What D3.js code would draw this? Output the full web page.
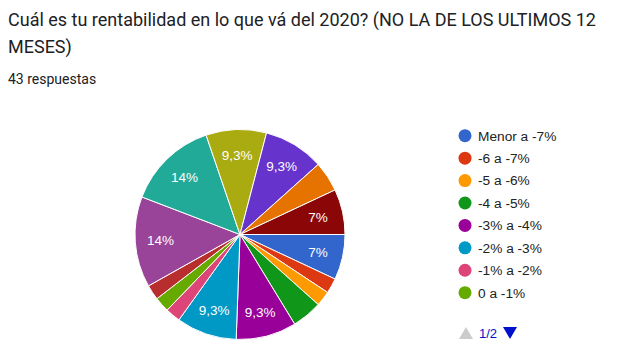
<!DOCTYPE html>
<html>
<head>
<meta charset="utf-8">
<script src="https://cdn.jsdelivr.net/npm/d3@7"></script>
<style>
html,body{margin:0;padding:0;background:#fff;}
svg{display:block;}
</style>
</head>
<body>
<svg id="chart" width="640" height="349"></svg>
<script>
const titleLines = ["Cuál es tu rentabilidad en lo que vá del 2020? (NO LA DE LOS ULTIMOS 12", "MESES)"];
const subtitle = "43 respuestas";
const categories = ["Menor a -7%", "-6 a -7%", "-5 a -6%", "-4 a -5%", "-3% a -4%", "-2% a -3%", "-1% a -2%", "0 a -1%",
  "0 a 1%", "1% a 2%", "2% a 3%", "3% a 4%", "4% a 5%", "5% a 6%", "6% a 7%", "Mayor a 7%"];
const counts = [3, 1, 1, 2, 4, 4, 1, 1, 1, 0, 6, 6, 4, 4, 2, 3];
const colors = ["#3366cc", "#dc3912", "#ff9900", "#109618", "#990099", "#0099c6", "#dd4477", "#66aa00",
  "#b82e2e", "#316395", "#994499", "#22aa99", "#aaaa11", "#6633cc", "#e67300", "#8b0707"];
const legendPageSize = 8;
const pagerText = "1/2";

const svg = d3.select("#chart");

// Title
svg.selectAll("text.title").data(titleLines).join("text")
  .attr("class", "title")
  .attr("x", 8).attr("y", (d, i) => 26 + i * 27)
  .attr("font-family", "Roboto, sans-serif").attr("font-size", 18)
  .attr("fill", "#202124").text(d => d);
svg.append("text").attr("x", 8).attr("y", 84)
  .attr("font-family", "Roboto, sans-serif").attr("font-size", 14)
  .attr("fill", "#202124").text(subtitle);

// Pie
const cx = 240, cy = 234.5, r = 105;
const data = categories.map((c, i) => ({cat: c, value: counts[i], color: colors[i]}));
const total = d3.sum(counts);
const pie = d3.pie().value(d => d.value).sort(null)
  .startAngle(Math.PI / 2).endAngle(Math.PI / 2 + 2 * Math.PI);
const arcs = pie(data);
const arc = d3.arc().innerRadius(0).outerRadius(r);
const labelArc = d3.arc().innerRadius(r * 0.76).outerRadius(r * 0.76);
const g = svg.append("g").attr("transform", `translate(${cx},${cy})`);
g.selectAll("path").data(arcs.filter(a => a.data.value > 0)).join("path")
  .attr("d", arc).attr("fill", d => d.data.color)
  .attr("stroke", "#fff").attr("stroke-width", 1);

const locale = d3.formatLocale({decimal: ",", thousands: ".", grouping: [3], currency: ["", "€"]});
const fmt = locale.format(".2~r");
g.selectAll("text").data(arcs.filter(a => (a.endAngle - a.startAngle) > 0.35)).join("text")
  .attr("transform", d => `translate(${labelArc.centroid(d)})`)
  .attr("text-anchor", "middle").attr("dy", "0.36em")
  .attr("font-family", "Arial, 'Liberation Sans', sans-serif").attr("font-size", 13.5)
  .attr("fill", "#fff")
  .text(d => fmt(d.data.value / total * 100) + "%");

// Legend
const legend = svg.append("g");
const rowY = d3.scalePoint().domain(d3.range(legendPageSize)).range([135.7, 292.7]);
const items = legend.selectAll("g").data(data.slice(0, legendPageSize)).join("g")
  .attr("transform", (d, i) => `translate(0,${rowY(i)})`);
items.append("circle").attr("cx", 465).attr("cy", 0).attr("r", 6.5).attr("fill", d => d.color);
items.append("text").attr("x", 478).attr("y", 0).attr("dy", "0.36em")
  .attr("font-family", "Arial, 'Liberation Sans', sans-serif").attr("font-size", 13.7)
  .attr("fill", "#222").text(d => d.cat);

// Pager
svg.append("path").attr("d", "M459,339 L466,327 L473,339 Z").attr("fill", "#cccccc");
svg.append("text").attr("x", 479).attr("y", 338)
  .attr("font-family", "Arial, 'Liberation Sans', sans-serif").attr("font-size", 13)
  .attr("fill", "#0011cc").text(pagerText);
svg.append("path").attr("d", "M503,327 L517,327 L510,339 Z").attr("fill", "#0011cc");
</script>
</body>
</html>
